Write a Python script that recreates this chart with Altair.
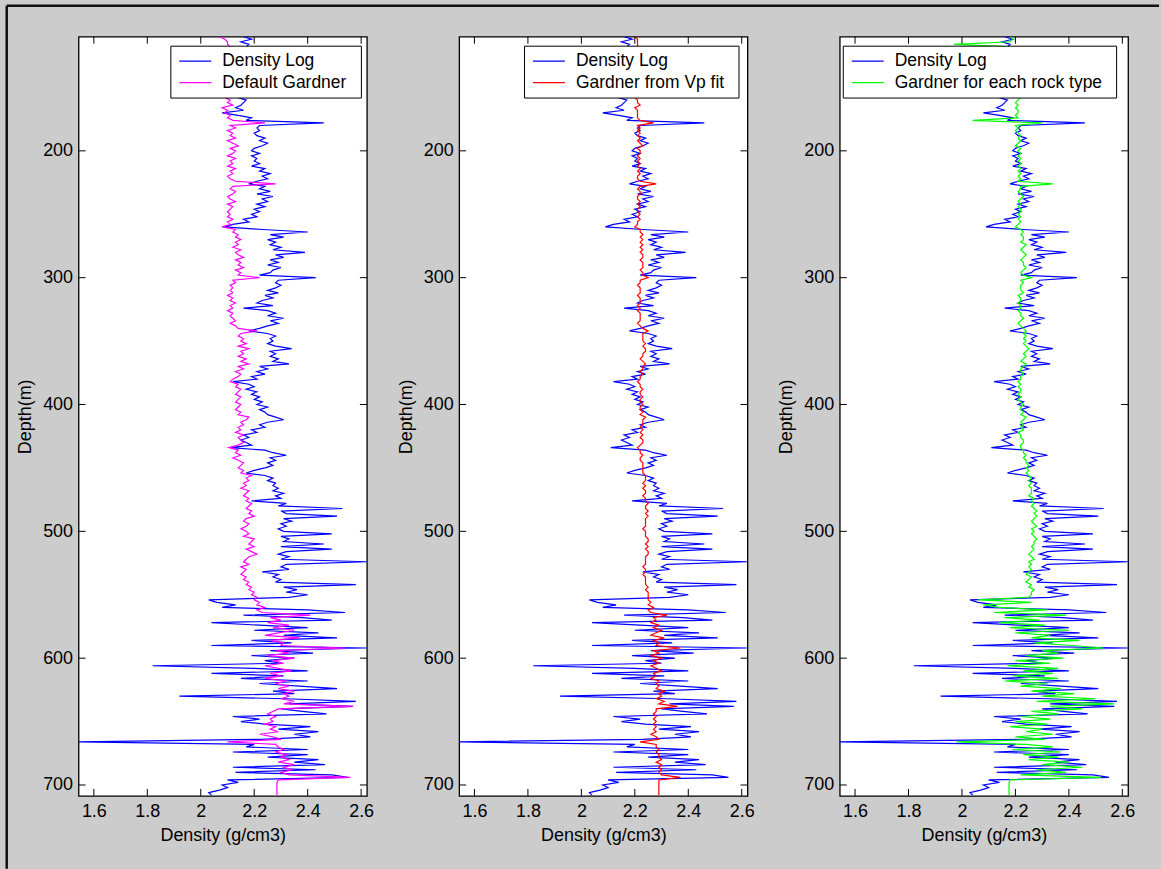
import altair as alt
import numpy as np
import pandas as pd

# Well log sampled every 2 m, starting at 110 m
DEPTH_TOP = 110.0
DEPTH_STEP = 2.0

# Measured bulk density (g/cm3), one row per 20 m
RHOB = [
    2.16, 2.19, 2.15, 2.18, 2.17, 2.16, 2.18, 2.15, 2.17, 2.16,
    2.17, 2.15, 2.18, 2.16, 2.14, 2.17, 2.15, 2.16, 2.18, 2.16,
    2.15, 2.17, 2.14, 2.16, 2.14, 2.17, 2.16, 2.15, 2.13, 2.16,
    2.08, 2.14, 2.19, 2.17, 2.46, 2.22, 2.21, 2.22, 2.20, 2.21,
    2.24, 2.22, 2.25, 2.23, 2.20, 2.19, 2.22, 2.19, 2.21, 2.20,
    2.22, 2.19, 2.24, 2.22, 2.26, 2.23, 2.25, 2.21, 2.18, 2.24,
    2.22, 2.26, 2.21, 2.27, 2.23, 2.25, 2.21, 2.24, 2.20, 2.22,
    2.19, 2.21, 2.16, 2.18, 2.12, 2.09, 2.23, 2.40, 2.26, 2.31,
    2.25, 2.28, 2.26, 2.30, 2.27, 2.39, 2.28, 2.31, 2.26, 2.29,
    2.25, 2.30, 2.27, 2.26, 2.22, 2.43, 2.29, 2.28, 2.30, 2.28,
    2.25, 2.29, 2.24, 2.27, 2.23, 2.21, 2.27, 2.16, 2.25, 2.28,
    2.25, 2.31, 2.26, 2.29, 2.25, 2.22, 2.18, 2.25, 2.28, 2.26,
    2.27, 2.25, 2.28, 2.34, 2.26, 2.28, 2.26, 2.29, 2.27, 2.33,
    2.22, 2.25, 2.21, 2.24, 2.19, 2.21, 2.12, 2.18, 2.20, 2.17,
    2.21, 2.19, 2.22, 2.20, 2.23, 2.21, 2.25, 2.22, 2.24, 2.25,
    2.28, 2.31, 2.25, 2.22, 2.24, 2.19, 2.21, 2.16, 2.18, 2.15,
    2.17, 2.19, 2.11, 2.24, 2.27, 2.32, 2.26, 2.28, 2.25, 2.27,
    2.24, 2.20, 2.17, 2.24, 2.27, 2.25, 2.28, 2.27, 2.29, 2.27,
    2.31, 2.28, 2.30, 2.19, 2.32, 2.29, 2.53, 2.30, 2.32, 2.51,
    2.31, 2.34, 2.30, 2.32, 2.29, 2.31, 2.49, 2.30, 2.33, 2.31,
    2.46, 2.30, 2.49, 2.32, 2.29, 2.33, 2.30, 2.62, 2.32, 2.30,
    2.33, 2.23, 2.29, 2.27, 2.30, 2.28, 2.58, 2.31, 2.36, 2.32,
    2.40, 2.33, 2.03, 2.06, 2.13, 2.08, 2.40, 2.54, 2.16, 2.38,
    2.49, 2.04, 2.22, 2.40, 2.20, 2.44, 2.31, 2.51, 2.19, 2.34,
    2.04, 2.62, 2.26, 2.42, 2.19, 2.35, 2.24, 2.30, 1.82, 2.20,
    2.40, 2.04, 2.31, 2.15, 2.40, 2.22, 2.37, 2.51, 2.27, 2.35,
    1.92, 2.32, 2.58, 2.33, 2.57, 2.30, 2.38, 2.47, 2.12, 2.22,
    2.15, 2.24, 2.41, 2.29, 2.44, 2.35, 2.41, 2.23, 1.543, 2.20,
    2.17, 2.40, 2.12, 2.40, 2.25, 2.44, 2.35, 2.465, 2.12, 2.43,
    2.13, 2.49, 2.55, 2.10, 2.14, 2.08, 2.10, 2.07, 2.03, 2.04,
]

# Gardner density with the default coefficients
GARDNER_DEFAULT = [
    2.07, 2.09, 2.10, 2.10, 2.11, 2.10, 2.12, 2.11, 2.10, 2.12,
    2.11, 2.12, 2.10, 2.11, 2.13, 2.11, 2.12, 2.10, 2.11, 2.12,
    2.11, 2.10, 2.12, 2.11, 2.09, 2.11, 2.10, 2.12, 2.08, 2.10,
    2.09, 2.11, 2.10, 2.12, 2.24, 2.11, 2.13, 2.10, 2.12, 2.11,
    2.13, 2.10, 2.12, 2.14, 2.11, 2.13, 2.12, 2.10, 2.13, 2.11,
    2.12, 2.10, 2.13, 2.11, 2.12, 2.10, 2.11, 2.13, 2.28, 2.12,
    2.11, 2.13, 2.12, 2.10, 2.11, 2.13, 2.10, 2.12, 2.11, 2.10,
    2.11, 2.10, 2.12, 2.10, 2.11, 2.08, 2.13, 2.12, 2.14, 2.13,
    2.15, 2.13, 2.14, 2.12, 2.15, 2.13, 2.14, 2.16, 2.13, 2.15,
    2.14, 2.16, 2.13, 2.15, 2.14, 2.22, 2.12, 2.13, 2.11, 2.12,
    2.11, 2.12, 2.10, 2.12, 2.11, 2.13, 2.11, 2.12, 2.10, 2.12,
    2.11, 2.12, 2.13, 2.11, 2.13, 2.14, 2.21, 2.15, 2.14, 2.16,
    2.15, 2.17, 2.14, 2.18, 2.15, 2.16, 2.14, 2.17, 2.15, 2.18,
    2.14, 2.16, 2.13, 2.15, 2.14, 2.12, 2.11, 2.14, 2.13, 2.15,
    2.14, 2.13, 2.15, 2.14, 2.13, 2.15, 2.14, 2.13, 2.15, 2.14,
    2.18, 2.17, 2.15, 2.16, 2.14, 2.15, 2.13, 2.16, 2.14, 2.15,
    2.16, 2.14, 2.105, 2.14, 2.13, 2.15, 2.12, 2.14, 2.16, 2.15,
    2.14, 2.16, 2.15, 2.19, 2.17, 2.18, 2.16, 2.17, 2.15, 2.18,
    2.17, 2.16, 2.18, 2.17, 2.19, 2.18, 2.17, 2.19, 2.18, 2.20,
    2.17, 2.16, 2.18, 2.17, 2.15, 2.17, 2.18, 2.16, 2.20, 2.19,
    2.18, 2.20, 2.17, 2.19, 2.21, 2.18, 2.17, 2.16, 2.18, 2.15,
    2.17, 2.16, 2.15, 2.17, 2.16, 2.18, 2.17, 2.19, 2.18, 2.20,
    2.19, 2.21, 2.20, 2.22, 2.21, 2.24, 2.21, 2.23, 2.41, 2.26,
    2.30, 2.25, 2.33, 2.27, 2.35, 2.29, 2.24, 2.37, 2.26, 2.31,
    2.30, 2.54, 2.28, 2.33, 2.25, 2.35, 2.27, 2.31, 2.24, 2.29,
    2.34, 2.26, 2.30, 2.24, 2.32, 2.28, 2.33, 2.29, 2.35, 2.31,
    2.33, 2.30, 2.35, 2.31, 2.57, 2.29, 2.27, 2.25, 2.28, 2.26,
    2.27, 2.24, 2.28, 2.26, 2.29, 2.22, 2.27, 2.30, 2.10, 2.28,
    2.29, 2.31, 2.28, 2.32, 2.30, 2.33, 2.29, 2.35, 2.31, 2.34,
    2.30, 2.33, 2.56, 2.29, 2.285, 2.285, 2.285, 2.285, 2.285, 2.285,
]

# Gardner density with coefficients fitted to the Vp log
GARDNER_VP_FIT = [
    2.20, 2.21, 2.21, 2.21, 2.21, 2.21, 2.22, 2.21, 2.21, 2.22,
    2.21, 2.22, 2.21, 2.21, 2.22, 2.21, 2.22, 2.21, 2.21, 2.22,
    2.21, 2.21, 2.22, 2.21, 2.20, 2.21, 2.21, 2.22, 2.20, 2.21,
    2.21, 2.21, 2.21, 2.22, 2.27, 2.21, 2.22, 2.21, 2.22, 2.21,
    2.22, 2.21, 2.22, 2.23, 2.21, 2.22, 2.22, 2.21, 2.22, 2.21,
    2.22, 2.21, 2.22, 2.21, 2.22, 2.21, 2.21, 2.22, 2.28, 2.22,
    2.21, 2.22, 2.22, 2.21, 2.21, 2.22, 2.21, 2.22, 2.21, 2.21,
    2.22, 2.21, 2.22, 2.21, 2.21, 2.20, 2.22, 2.22, 2.23, 2.22,
    2.23, 2.22, 2.23, 2.22, 2.23, 2.22, 2.23, 2.23, 2.22, 2.23,
    2.23, 2.23, 2.22, 2.23, 2.23, 2.25, 2.22, 2.22, 2.21, 2.22,
    2.22, 2.22, 2.21, 2.22, 2.22, 2.22, 2.21, 2.22, 2.21, 2.22,
    2.22, 2.22, 2.22, 2.21, 2.22, 2.23, 2.25, 2.23, 2.23, 2.23,
    2.23, 2.24, 2.23, 2.24, 2.24, 2.23, 2.23, 2.22, 2.23, 2.24,
    2.23, 2.23, 2.22, 2.23, 2.22, 2.22, 2.21, 2.22, 2.22, 2.23,
    2.22, 2.22, 2.23, 2.22, 2.22, 2.23, 2.22, 2.22, 2.23, 2.22,
    2.24, 2.23, 2.23, 2.23, 2.22, 2.23, 2.22, 2.23, 2.22, 2.23,
    2.23, 2.22, 2.21, 2.22, 2.22, 2.23, 2.22, 2.22, 2.23, 2.23,
    2.23, 2.23, 2.23, 2.24, 2.24, 2.24, 2.23, 2.24, 2.23, 2.24,
    2.24, 2.23, 2.24, 2.24, 2.25, 2.24, 2.24, 2.25, 2.24, 2.25,
    2.24, 2.24, 2.24, 2.24, 2.23, 2.24, 2.24, 2.24, 2.25, 2.25,
    2.24, 2.25, 2.24, 2.25, 2.25, 2.24, 2.24, 2.24, 2.24, 2.23,
    2.24, 2.24, 2.23, 2.24, 2.24, 2.24, 2.24, 2.25, 2.24, 2.25,
    2.25, 2.25, 2.25, 2.26, 2.25, 2.27, 2.25, 2.26, 2.32, 2.27,
    2.28, 2.26, 2.29, 2.27, 2.30, 2.28, 2.26, 2.31, 2.27, 2.29,
    2.28, 2.37, 2.27, 2.29, 2.26, 2.30, 2.27, 2.29, 2.26, 2.28,
    2.30, 2.27, 2.28, 2.26, 2.29, 2.28, 2.29, 2.28, 2.31, 2.29,
    2.30, 2.28, 2.31, 2.29, 2.36, 2.28, 2.28, 2.27, 2.28, 2.27,
    2.28, 2.27, 2.28, 2.27, 2.28, 2.26, 2.28, 2.29, 2.22, 2.28,
    2.28, 2.29, 2.28, 2.29, 2.29, 2.30, 2.28, 2.30, 2.29, 2.30,
    2.29, 2.30, 2.37, 2.29, 2.29, 2.29, 2.29, 2.29, 2.29, 2.29,
]

# Gardner density with coefficients fitted per rock type
GARDNER_ROCK_TYPE = [
    2.18, 2.19, 2.18, 1.97, 2.19, 2.20, 2.19, 2.20, 2.21, 2.20,
    2.20, 2.21, 2.20, 2.21, 2.20, 2.21, 2.20, 2.21, 2.20, 2.21,
    2.21, 2.20, 2.21, 2.20, 2.22, 2.21, 2.20, 2.21, 2.20, 2.21,
    2.21, 2.20, 2.21, 2.04, 2.30, 2.20, 2.21, 2.20, 2.21, 2.22,
    2.21, 2.22, 2.21, 2.20, 2.22, 2.21, 2.22, 2.21, 2.22, 2.21,
    2.22, 2.21, 2.22, 2.21, 2.22, 2.21, 2.22, 2.21, 2.34, 2.22,
    2.22, 2.21, 2.22, 2.23, 2.22, 2.21, 2.22, 2.21, 2.22, 2.22,
    2.21, 2.22, 2.21, 2.22, 2.21, 2.20, 2.22, 2.23, 2.22, 2.23,
    2.23, 2.22, 2.24, 2.23, 2.22, 2.23, 2.24, 2.23, 2.22, 2.23,
    2.23, 2.24, 2.23, 2.22, 2.23, 2.26, 2.22, 2.23, 2.22, 2.22,
    2.22, 2.23, 2.21, 2.22, 2.22, 2.21, 2.22, 2.22, 2.21, 2.22,
    2.22, 2.23, 2.22, 2.21, 2.22, 2.23, 2.24, 2.23, 2.24, 2.23,
    2.24, 2.23, 2.24, 2.25, 2.24, 2.23, 2.24, 2.23, 2.22, 2.24,
    2.23, 2.22, 2.22, 2.23, 2.22, 2.22, 2.21, 2.22, 2.21, 2.22,
    2.22, 2.21, 2.22, 2.21, 2.22, 2.23, 2.22, 2.22, 2.23, 2.22,
    2.24, 2.23, 2.22, 2.23, 2.22, 2.23, 2.21, 2.22, 2.22, 2.23,
    2.23, 2.22, 2.22, 2.23, 2.23, 2.24, 2.23, 2.24, 2.24, 2.25,
    2.24, 2.25, 2.24, 2.25, 2.26, 2.25, 2.26, 2.25, 2.26, 2.26,
    2.26, 2.25, 2.27, 2.26, 2.27, 2.26, 2.27, 2.28, 2.27, 2.28,
    2.27, 2.26, 2.27, 2.28, 2.26, 2.27, 2.26, 2.27, 2.28, 2.27,
    2.27, 2.26, 2.27, 2.26, 2.25, 2.26, 2.27, 2.25, 2.26, 2.25,
    2.26, 2.25, 2.24, 2.26, 2.25, 2.24, 2.26, 2.25, 2.27, 2.26,
    2.26, 2.25, 2.06, 2.26, 2.08, 2.14, 2.32, 2.12, 2.39, 2.16,
    2.29, 2.14, 2.31, 2.18, 2.40, 2.20, 2.33, 2.26, 2.44, 2.27,
    2.41, 2.53, 2.30, 2.36, 2.24, 2.38, 2.20, 2.33, 2.17, 2.36,
    2.23, 2.34, 2.19, 2.36, 2.16, 2.32, 2.22, 2.37, 2.26, 2.42,
    2.30, 2.50, 2.28, 2.57, 2.33, 2.45, 2.26, 2.36, 2.22, 2.33,
    2.20, 2.32, 2.18, 2.30, 2.24, 2.34, 2.20, 2.31, 1.98, 2.24,
    2.34, 2.19, 2.37, 2.23, 2.36, 2.25, 2.40, 2.30, 2.45, 2.28,
    2.39, 2.22, 2.52, 2.18, 2.176, 2.176, 2.176, 2.176, 2.176, 2.176,
]

X_TICKS = [1.6, 1.8, 2.0, 2.2, 2.4, 2.6]
Y_TICKS = [200, 300, 400, 500, 600, 700]
X_DOMAIN = [1.5428, 2.6215]
Y_DOMAIN = [110.0, 708.6]

# name of the Gardner curve, its values, its colour, and the
# horizontal position of the legend box inside the panel
PANELS = [
    ("Default Gardner", GARDNER_DEFAULT, "#ff00ff", 92),
    ("Gardner from Vp fit", GARDNER_VP_FIT, "#ff0000", 65),
    ("Gardner for each rock type", GARDNER_ROCK_TYPE, "#00ff00", 3),
]

FONT = "Liberation Sans"
FS = 18            # axis text
LEGEND_FS = 17.5   # legend text
W, H = 289, 761
TICK = 7

depth = DEPTH_TOP + DEPTH_STEP * np.arange(len(RHOB))

x_scale = alt.Scale(domain=X_DOMAIN, nice=False, zero=False)
y_scale = alt.Scale(domain=Y_DOMAIN, nice=False, zero=False, reverse=True)

x_axis = alt.Axis(
    values=X_TICKS, format=".1~f", title="Density (g/cm3)",
    ticks=False, domain=False, grid=False, labelPadding=7,
    labelFont=FONT, labelFontSize=FS, labelColor="black",
    titleFont=FONT, titleFontSize=FS, titleFontWeight="normal",
    titleColor="black", titlePadding=6,
)
y_axis = alt.Axis(
    values=Y_TICKS, format="d", title="Depth(m)",
    ticks=False, domain=False, grid=False, labelPadding=6,
    labelFont=FONT, labelFontSize=FS, labelColor="black",
    titleFont=FONT, titleFontSize=FS, titleFontWeight="normal",
    titleColor="black", titlePadding=8,
)

xt = pd.DataFrame({"t": X_TICKS})
yt = pd.DataFrame({"t": Y_TICKS})


def inward_ticks():
    xs = alt.X("t:Q", scale=x_scale, axis=x_axis)
    ys = alt.Y("t:Q", scale=y_scale, axis=y_axis)
    top = alt.Chart(xt).mark_rule(color="black").encode(
        x=xs, y=alt.value(0), y2=alt.value(TICK))
    bottom = alt.Chart(xt).mark_rule(color="black").encode(
        x=xs, y=alt.value(H - TICK), y2=alt.value(H))
    left = alt.Chart(yt).mark_rule(color="black").encode(
        y=ys, x=alt.value(0), x2=alt.value(TICK))
    right = alt.Chart(yt).mark_rule(color="black").encode(
        y=ys, x=alt.value(W - TICK), x2=alt.value(W))
    return [top, bottom, left, right]


def panel(name, values, colour, legend_x, first=False):
    colour_enc = alt.Color(
        "curve:N",
        scale=alt.Scale(domain=["Density Log", name], range=["#0000ff", colour]),
        legend=alt.Legend(
            orient="none", legendX=legend_x, legendY=9, padding=6,
            strokeColor="black", fillColor="white", cornerRadius=0,
            # a transparent spacer on the right widens the box margin
            title=".", titleOrient="right", titleOpacity=0,
            titleFontSize=LEGEND_FS, titlePadding=3,
            # a long, flat line sample inside a 17 px legend row
            symbolType="M-0.765,0H3.0", symbolSize=289, symbolStrokeWidth=1.3,
            symbolFillColor="transparent",
            labelFont=FONT, labelFontSize=LEGEND_FS, labelColor="black",
            labelOffset=27, labelLimit=400, rowPadding=3.5,
        ),
    )
    log_df = pd.DataFrame({"depth": depth, "density": RHOB, "curve": "Density Log"})
    model_df = pd.DataFrame({"depth": depth, "density": values, "curve": name})

    def curve(df):
        return alt.Chart(df).mark_line(strokeWidth=1.2, clip=True).encode(
            x=alt.X("density:Q", scale=x_scale, axis=x_axis),
            y=alt.Y("depth:Q", scale=y_scale, axis=y_axis),
            order=alt.Order("depth:Q"),
            color=colour_enc,
        )

    layers = [curve(log_df), curve(model_df)] + inward_ticks()
    if first:
        # figure frame along the left and top edges
        one = pd.DataFrame({"k": [0]})
        frame_left = alt.Chart(one).mark_rule(color="#111111", strokeWidth=2.5).encode(
            x=alt.value(-72), y=alt.value(-31), y2=alt.value(834))
        frame_top = alt.Chart(one).mark_rule(color="#111111", strokeWidth=2.5).encode(
            y=alt.value(-31), x=alt.value(-72), x2=alt.value(1083))
        layers += [frame_left, frame_top]
    return alt.layer(*layers).properties(width=W, height=H)


charts = [panel(n, v, c, lx, first=(i == 0)) for i, (n, v, c, lx) in enumerate(PANELS)]

chart = (
    alt.hconcat(*charts, spacing=92.5, bounds="flush")
    .resolve_scale(color="independent")
    .resolve_legend(color="independent")
    .properties(padding={"left": 4.75, "top": 2.75, "right": 0, "bottom": 0})
    .configure(background="#cccccc", font=FONT)
    .configure_view(fill="white", stroke="black", strokeWidth=1.3)
)

chart.save("out.html", embed_options={"renderer": "svg", "actions": False})
